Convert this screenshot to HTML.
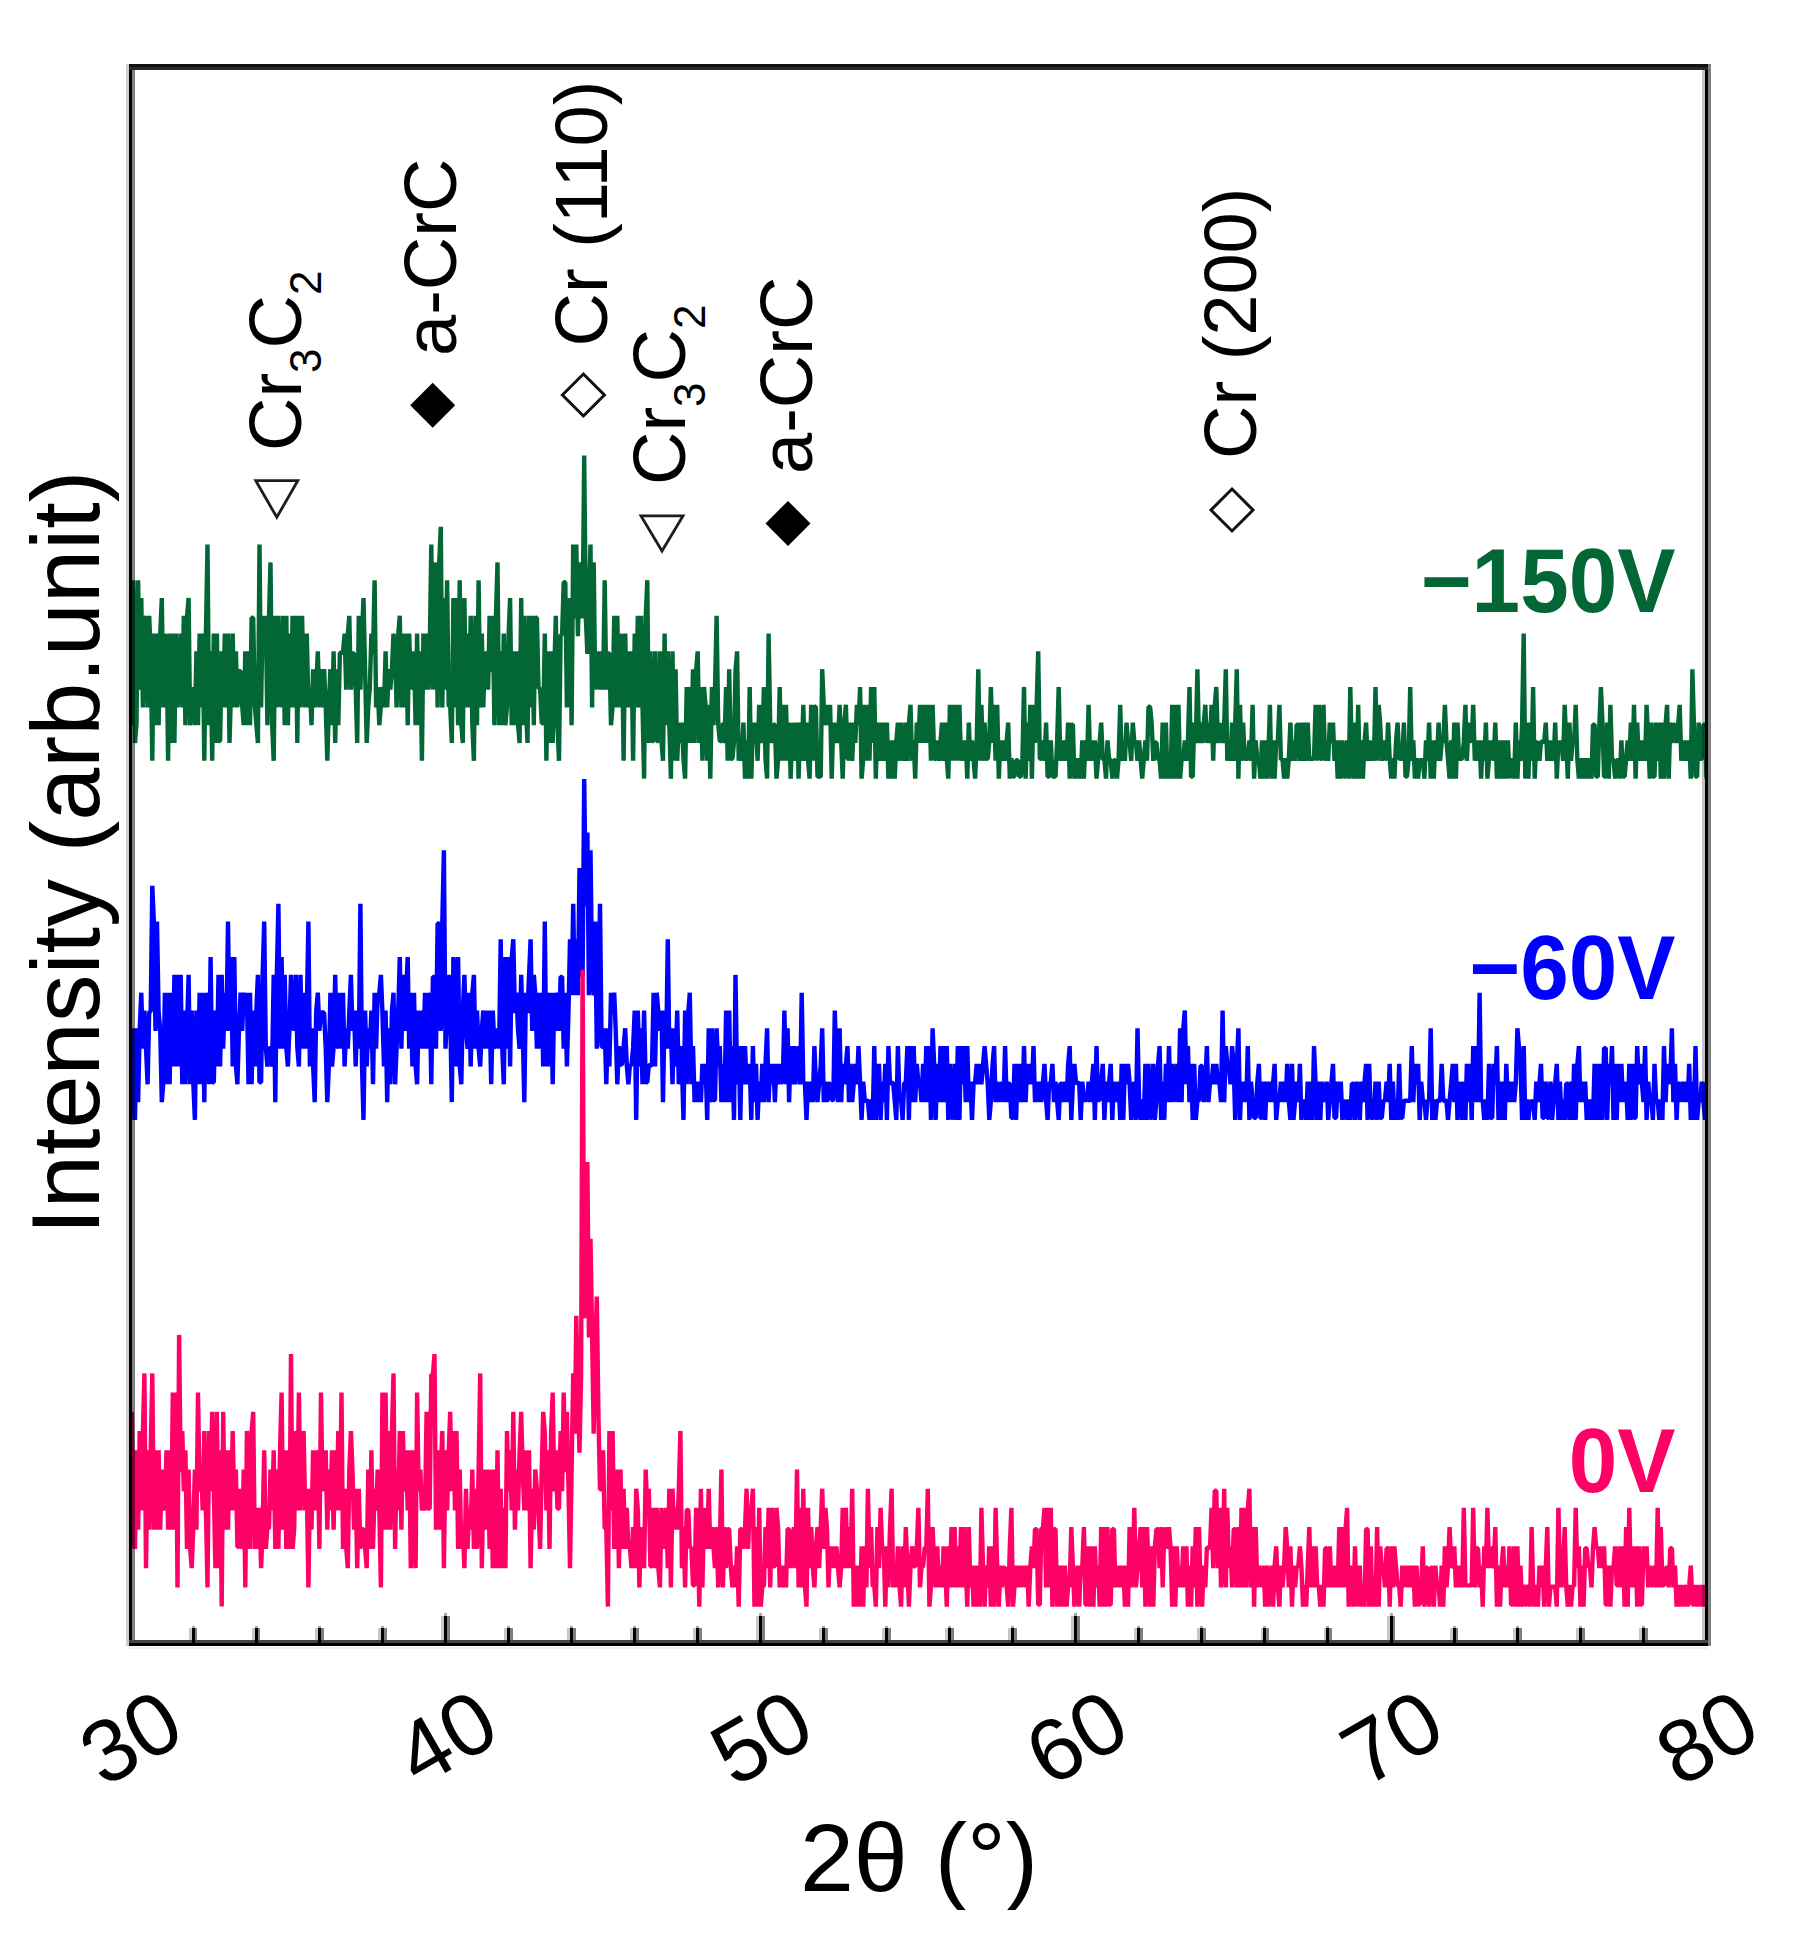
<!DOCTYPE html>
<html lang="en"><head><meta charset="utf-8"><title>XRD patterns</title>
<style>
html,body{margin:0;padding:0;background:#fff;}
body{width:1795px;height:1948px;overflow:hidden;}
svg{display:block;}
text{font-family:"Liberation Sans",Arial,sans-serif;fill:#000;}
.ann{font-size:74px;}
.tick{font-size:88px;}
.axis{font-size:97px;}
.lab{font-size:90px;font-weight:bold;}
</style></head><body>
<svg width="1795" height="1948" viewBox="0 0 1795 1948">
<rect x="0" y="0" width="1795" height="1948" fill="#ffffff"/>

<defs><clipPath id="plot"><rect x="132.0" y="67.0" width="1575.0" height="1576.0"/></clipPath></defs>
<g clip-path="url(#plot)" fill="none" stroke-linejoin="bevel" stroke-linecap="butt">
<polyline stroke="#036635" stroke-width="4.4" points="130.2,580.2 131.8,725.2 133.4,580.2 135.0,743.0 136.5,723.9 138.1,580.2 139.7,689.6 141.3,598.0 142.9,707.4 144.4,617.8 146.0,617.8 147.6,707.4 149.2,615.8 150.7,652.7 152.3,760.8 153.9,633.6 155.5,725.2 157.0,633.6 158.6,725.2 160.2,634.9 161.8,598.0 163.3,707.4 164.9,635.6 166.5,635.6 168.1,760.8 169.6,633.6 171.2,743.0 172.8,633.6 174.4,743.0 176.0,633.6 177.5,707.4 179.1,688.3 180.7,633.6 182.3,707.4 183.8,615.8 185.4,725.2 187.0,617.1 188.6,598.0 190.1,725.2 191.7,706.1 193.3,687.0 194.9,725.2 196.4,651.4 198.0,725.2 199.6,633.6 201.2,707.4 202.7,633.6 204.3,760.8 205.9,634.9 207.5,544.6 209.1,725.2 210.6,651.4 212.2,760.8 213.8,633.6 215.4,743.0 216.9,633.6 218.5,741.0 220.1,741.0 221.7,651.4 223.2,707.4 224.8,633.6 226.4,707.4 228.0,633.6 229.5,743.0 231.1,688.3 232.7,633.6 234.3,707.4 235.9,651.4 237.4,707.4 239.0,671.2 240.6,671.2 242.2,706.1 243.7,725.2 245.3,651.4 246.9,725.2 248.5,651.4 250.0,725.2 251.6,617.8 253.2,617.8 254.8,706.1 256.3,723.9 257.9,743.0 259.5,544.6 261.1,707.4 262.6,615.8 264.2,636.2 265.8,615.8 267.4,725.2 269.0,617.1 270.5,562.4 272.1,723.9 273.7,760.8 275.3,615.8 276.8,707.4 278.4,615.8 280.0,705.4 281.6,705.4 283.1,615.8 284.7,725.2 286.3,615.8 287.9,725.2 289.4,633.6 291.0,707.4 292.6,615.8 294.2,707.4 295.8,615.8 297.3,743.0 298.9,615.8 300.5,707.4 302.1,615.8 303.6,688.3 305.2,707.4 306.8,633.6 308.4,707.4 309.9,687.0 311.5,725.2 313.1,669.2 314.7,707.4 316.2,688.3 317.8,651.4 319.4,707.4 321.0,669.2 322.5,707.4 324.1,669.2 325.7,706.1 327.3,760.8 328.9,706.1 330.4,669.2 332.0,725.2 333.6,651.4 335.2,743.0 336.7,669.2 338.3,725.2 339.9,652.7 341.5,652.7 343.0,652.7 344.6,633.6 346.2,689.6 347.8,634.9 349.3,615.8 350.9,689.6 352.5,653.4 354.1,653.4 355.7,688.3 357.2,743.0 358.8,615.8 360.4,689.6 362.0,634.9 363.5,598.0 365.1,670.5 366.7,743.0 368.3,706.1 369.8,688.3 371.4,633.6 373.0,654.0 374.6,580.2 376.1,707.4 377.7,687.0 379.3,725.2 380.9,706.1 382.4,687.0 384.0,707.4 385.6,651.4 387.2,707.4 388.8,669.2 390.3,689.6 391.9,670.5 393.5,633.6 395.1,652.7 396.6,707.4 398.2,634.9 399.8,615.8 401.4,707.4 402.9,633.6 404.5,707.4 406.1,633.6 407.7,725.2 409.2,633.6 410.8,689.6 412.4,653.4 414.0,653.4 415.6,725.2 417.1,633.6 418.7,725.2 420.3,651.4 421.9,760.8 423.4,633.6 425.0,689.6 426.6,633.6 428.2,689.6 429.7,652.7 431.3,544.6 432.9,689.6 434.5,581.5 436.0,562.4 437.6,707.4 439.2,563.7 440.8,526.8 442.3,707.4 443.9,598.0 445.5,689.6 447.1,580.2 448.7,706.1 450.2,706.1 451.8,743.0 453.4,598.0 455.0,707.4 456.5,598.0 458.1,725.2 459.7,580.2 461.3,723.9 462.8,743.0 464.4,598.0 466.0,707.4 467.6,633.6 469.1,707.4 470.7,615.8 472.3,723.9 473.9,760.8 475.4,615.8 477.0,725.2 478.6,580.2 480.2,707.4 481.8,633.6 483.3,707.4 484.9,653.4 486.5,653.4 488.1,689.6 489.6,615.8 491.2,671.8 492.8,615.8 494.4,725.2 495.9,617.1 497.5,562.4 499.1,725.2 500.7,651.4 502.2,725.2 503.8,633.6 505.4,725.2 507.0,706.1 508.6,634.9 510.1,598.0 511.7,725.2 513.3,651.4 514.9,725.2 516.4,651.4 518.0,723.9 519.6,743.0 521.2,598.0 522.7,725.2 524.3,615.8 525.9,706.1 527.5,743.0 529.0,615.8 530.6,707.4 532.2,615.8 533.8,725.2 535.3,617.8 536.9,617.8 538.5,688.3 540.1,688.3 541.7,723.2 543.2,723.2 544.8,633.6 546.4,760.8 548.0,651.4 549.5,743.0 551.1,651.4 552.7,743.0 554.3,670.5 555.8,615.8 557.4,723.9 559.0,760.8 560.6,634.9 562.1,634.9 563.7,582.2 565.3,582.2 566.9,707.4 568.5,670.5 570.0,598.0 571.6,725.2 573.2,544.6 574.8,618.4 576.3,544.6 577.9,636.2 579.5,562.4 581.1,599.3 582.6,618.4 584.2,455.6 585.8,617.1 587.4,654.0 588.9,599.3 590.5,544.6 592.1,707.4 593.7,562.4 595.2,687.6 596.8,687.6 598.4,651.4 600.0,689.6 601.6,651.4 603.1,689.6 604.7,580.2 606.3,689.6 607.9,653.4 609.4,653.4 611.0,725.2 612.6,706.1 614.2,615.8 615.7,707.4 617.3,615.8 618.9,707.4 620.5,635.6 622.0,635.6 623.6,760.8 625.2,633.6 626.8,707.4 628.4,651.4 629.9,707.4 631.5,651.4 633.1,760.8 634.7,633.6 636.2,707.4 637.8,615.8 639.4,707.4 641.0,615.8 642.5,706.1 644.1,778.6 645.7,617.1 647.3,580.2 648.8,743.0 650.4,651.4 652.0,741.0 653.6,741.0 655.1,651.4 656.7,741.0 658.3,741.0 659.9,651.4 661.5,741.7 663.0,760.8 664.6,633.6 666.2,725.2 667.8,651.4 669.3,723.9 670.9,778.6 672.5,651.4 674.1,760.8 675.6,669.2 677.2,760.8 678.8,722.6 680.4,743.0 681.9,722.6 683.5,759.5 685.1,778.6 686.7,687.0 688.3,743.0 689.8,687.0 691.4,743.0 693.0,669.2 694.6,743.0 696.1,670.5 697.7,651.4 699.3,743.0 700.9,687.0 702.4,760.8 704.0,687.0 705.6,706.1 707.2,760.8 708.7,704.8 710.3,778.6 711.9,687.0 713.5,725.2 715.0,688.3 716.6,615.8 718.2,723.9 719.8,741.0 721.4,741.0 722.9,722.6 724.5,743.0 726.1,687.0 727.7,760.8 729.2,669.2 730.8,758.8 732.4,758.8 734.0,741.7 735.5,670.5 737.1,651.4 738.7,760.8 740.3,740.4 741.8,760.8 743.4,722.6 745.0,778.6 746.6,740.4 748.1,778.6 749.7,687.0 751.3,778.6 752.9,722.6 754.5,743.0 756.0,722.6 757.6,760.8 759.2,704.8 760.8,723.9 762.3,743.0 763.9,687.0 765.5,759.5 767.1,778.6 768.6,633.6 770.2,723.9 771.8,743.0 773.4,724.6 774.9,724.6 776.5,778.6 778.1,759.5 779.7,687.0 781.3,760.8 782.8,704.8 784.4,760.8 786.0,704.8 787.6,760.8 789.1,722.6 790.7,778.6 792.3,724.6 793.9,724.6 795.4,760.8 797.0,722.6 798.6,778.6 800.2,722.6 801.7,760.8 803.3,704.8 804.9,760.8 806.5,722.6 808.0,759.5 809.6,778.6 811.2,704.8 812.8,760.8 814.4,706.8 815.9,706.8 817.5,776.6 819.1,776.6 820.7,776.6 822.2,669.2 823.8,706.1 825.4,725.2 827.0,704.8 828.5,725.2 830.1,704.8 831.7,778.6 833.3,722.6 834.8,743.0 836.4,722.6 838.0,743.0 839.6,704.8 841.2,741.7 842.7,778.6 844.3,723.9 845.9,704.8 847.5,758.8 849.0,758.8 850.6,722.6 852.2,760.8 853.8,722.6 855.3,743.0 856.9,704.8 858.5,725.2 860.1,687.0 861.6,778.6 863.2,759.5 864.8,704.8 866.4,760.8 867.9,704.8 869.5,760.8 871.1,687.0 872.7,743.0 874.3,687.0 875.8,778.6 877.4,722.6 879.0,760.8 880.6,722.6 882.1,760.8 883.7,722.6 885.3,760.8 886.9,722.6 888.4,778.6 890.0,740.4 891.6,778.6 893.2,740.4 894.7,778.6 896.3,741.7 897.9,722.6 899.5,760.8 901.1,722.6 902.6,741.7 904.2,760.8 905.8,722.6 907.4,760.8 908.9,723.9 910.5,704.8 912.1,760.8 913.7,740.4 915.2,778.6 916.8,722.6 918.4,743.0 920.0,704.8 921.5,743.0 923.1,704.8 924.7,743.0 926.3,704.8 927.8,743.0 929.4,704.8 931.0,760.8 932.6,704.8 934.2,758.8 935.7,758.8 937.3,740.4 938.9,760.8 940.5,741.7 942.0,722.6 943.6,760.8 945.2,722.6 946.8,759.5 948.3,778.6 949.9,704.8 951.5,760.8 953.1,704.8 954.6,760.8 956.2,704.8 957.8,760.8 959.4,704.8 961.0,760.8 962.5,740.4 964.1,760.8 965.7,740.4 967.3,778.6 968.8,722.6 970.4,760.8 972.0,740.4 973.6,759.5 975.1,778.6 976.7,741.7 978.3,669.2 979.9,760.8 981.4,704.8 983.0,760.8 984.6,722.6 986.2,758.8 987.7,758.8 989.3,741.7 990.9,687.0 992.5,743.0 994.1,704.8 995.6,760.8 997.2,704.8 998.8,778.6 1000.4,740.4 1001.9,760.8 1003.5,740.4 1005.1,760.8 1006.7,741.7 1008.2,722.6 1009.8,778.6 1011.4,758.2 1013.0,776.6 1014.5,776.6 1016.1,760.2 1017.7,760.2 1019.3,776.6 1020.8,776.6 1022.4,759.5 1024.0,687.0 1025.6,778.6 1027.2,722.6 1028.7,760.8 1030.3,704.8 1031.9,778.6 1033.5,704.8 1035.0,743.0 1036.6,706.1 1038.2,651.4 1039.8,758.8 1041.3,758.8 1042.9,740.4 1044.5,760.8 1046.1,722.6 1047.6,776.6 1049.2,776.6 1050.8,740.4 1052.4,776.6 1054.0,776.6 1055.5,776.6 1057.1,741.7 1058.7,687.0 1060.3,760.8 1061.8,740.4 1063.4,760.8 1065.0,740.4 1066.6,760.8 1068.1,722.6 1069.7,778.6 1071.3,724.6 1072.9,724.6 1074.4,778.6 1076.0,758.2 1077.6,778.6 1079.2,758.2 1080.7,778.6 1082.3,740.4 1083.9,778.6 1085.5,740.4 1087.1,760.8 1088.6,704.8 1090.2,760.8 1091.8,740.4 1093.4,760.8 1094.9,740.4 1096.5,778.6 1098.1,759.5 1099.7,741.7 1101.2,722.6 1102.8,759.5 1104.4,759.5 1106.0,778.6 1107.5,740.4 1109.1,759.5 1110.7,759.5 1112.3,778.6 1113.9,760.2 1115.4,760.2 1117.0,778.6 1118.6,759.5 1120.2,704.8 1121.7,760.8 1123.3,740.4 1124.9,760.8 1126.5,722.6 1128.0,741.7 1129.6,741.7 1131.2,760.8 1132.8,722.6 1134.3,741.7 1135.9,741.7 1137.5,760.8 1139.1,740.4 1140.6,759.5 1142.2,778.6 1143.8,759.5 1145.4,740.4 1147.0,760.8 1148.5,706.8 1150.1,706.8 1151.7,723.9 1153.3,760.8 1154.8,742.4 1156.4,742.4 1158.0,759.5 1159.6,759.5 1161.1,778.6 1162.7,722.6 1164.3,778.6 1165.9,722.6 1167.4,778.6 1169.0,758.2 1170.6,778.6 1172.2,704.8 1173.8,778.6 1175.3,704.8 1176.9,778.6 1178.5,704.8 1180.1,778.6 1181.6,759.5 1183.2,759.5 1184.8,740.4 1186.4,760.8 1187.9,741.7 1189.5,687.0 1191.1,776.6 1192.7,776.6 1194.2,722.6 1195.8,743.0 1197.4,669.2 1199.0,743.0 1200.5,722.6 1202.1,743.0 1203.7,723.9 1205.3,704.8 1206.9,743.0 1208.4,722.6 1210.0,743.0 1211.6,704.8 1213.2,760.8 1214.7,706.1 1216.3,687.0 1217.9,743.0 1219.5,724.6 1221.0,724.6 1222.6,743.0 1224.2,723.9 1225.8,669.2 1227.3,760.8 1228.9,740.4 1230.5,760.8 1232.1,722.6 1233.7,760.8 1235.2,723.9 1236.8,669.2 1238.4,778.6 1240.0,704.8 1241.5,760.8 1243.1,722.6 1244.7,758.8 1246.3,758.8 1247.8,758.8 1249.4,740.4 1251.0,760.8 1252.6,704.8 1254.1,778.6 1255.7,740.4 1257.3,759.5 1258.9,759.5 1260.4,778.6 1262.0,740.4 1263.6,778.6 1265.2,740.4 1266.8,778.6 1268.3,759.5 1269.9,704.8 1271.5,778.6 1273.1,740.4 1274.6,778.6 1276.2,741.7 1277.8,741.7 1279.4,704.8 1280.9,759.5 1282.5,759.5 1284.1,778.6 1285.7,758.2 1287.2,778.6 1288.8,759.5 1290.4,722.6 1292.0,760.8 1293.5,740.4 1295.1,760.8 1296.7,724.6 1298.3,724.6 1299.9,760.8 1301.4,722.6 1303.0,760.8 1304.6,722.6 1306.2,760.8 1307.7,722.6 1309.3,758.8 1310.9,758.8 1312.5,758.8 1314.0,758.8 1315.6,704.8 1317.2,760.8 1318.8,704.8 1320.3,758.8 1321.9,758.8 1323.5,704.8 1325.1,760.8 1326.7,740.4 1328.2,760.8 1329.8,722.6 1331.4,743.0 1333.0,722.6 1334.5,760.8 1336.1,740.4 1337.7,778.6 1339.3,740.4 1340.8,778.6 1342.4,740.4 1344.0,776.6 1345.6,776.6 1347.1,740.4 1348.7,778.6 1350.3,687.0 1351.9,759.5 1353.4,778.6 1355.0,722.6 1356.6,778.6 1358.2,704.8 1359.8,778.6 1361.3,740.4 1362.9,778.6 1364.5,741.7 1366.1,722.6 1367.6,760.8 1369.2,740.4 1370.8,760.8 1372.4,740.4 1373.9,760.8 1375.5,687.0 1377.1,760.8 1378.7,704.8 1380.2,723.9 1381.8,760.8 1383.4,740.4 1385.0,758.8 1386.6,758.8 1388.1,722.6 1389.7,759.5 1391.3,778.6 1392.9,758.2 1394.4,778.6 1396.0,741.7 1397.6,722.6 1399.2,758.8 1400.7,758.8 1402.3,758.8 1403.9,722.6 1405.5,776.6 1407.0,776.6 1408.6,759.5 1410.2,687.0 1411.8,760.8 1413.3,740.4 1414.9,778.6 1416.5,758.2 1418.1,778.6 1419.7,760.2 1421.2,760.2 1422.8,760.2 1424.4,778.6 1426.0,740.4 1427.5,760.8 1429.1,722.6 1430.7,778.6 1432.3,740.4 1433.8,778.6 1435.4,740.4 1437.0,760.8 1438.6,722.6 1440.1,760.8 1441.7,741.7 1443.3,741.7 1444.9,704.8 1446.5,741.7 1448.0,759.5 1449.6,778.6 1451.2,740.4 1452.8,778.6 1454.3,722.6 1455.9,778.6 1457.5,722.6 1459.1,758.8 1460.6,758.8 1462.2,758.8 1463.8,741.7 1465.4,704.8 1466.9,760.8 1468.5,722.6 1470.1,741.0 1471.7,741.0 1473.2,704.8 1474.8,760.8 1476.4,740.4 1478.0,760.8 1479.6,740.4 1481.1,778.6 1482.7,740.4 1484.3,760.8 1485.9,722.6 1487.4,778.6 1489.0,759.5 1490.6,740.4 1492.2,758.8 1493.7,758.8 1495.3,722.6 1496.9,778.6 1498.5,740.4 1500.0,778.6 1501.6,740.4 1503.2,778.6 1504.8,740.4 1506.3,778.6 1507.9,740.4 1509.5,776.6 1511.1,776.6 1512.7,758.2 1514.2,778.6 1515.8,722.6 1517.4,778.6 1519.0,740.4 1520.5,760.8 1522.1,723.9 1523.7,633.6 1525.3,778.6 1526.8,722.6 1528.4,778.6 1530.0,722.6 1531.6,760.8 1533.1,687.0 1534.7,778.6 1536.3,742.4 1537.9,742.4 1539.5,760.8 1541.0,741.7 1542.6,741.7 1544.2,741.7 1545.8,722.6 1547.3,760.8 1548.9,740.4 1550.5,760.8 1552.1,740.4 1553.6,760.8 1555.2,722.6 1556.8,778.6 1558.4,742.4 1559.9,742.4 1561.5,742.4 1563.1,760.8 1564.7,704.8 1566.2,741.7 1567.8,778.6 1569.4,722.6 1571.0,760.8 1572.6,741.7 1574.1,741.7 1575.7,704.8 1577.3,759.5 1578.9,778.6 1580.4,758.2 1582.0,778.6 1583.6,758.2 1585.2,778.6 1586.7,758.2 1588.3,778.6 1589.9,758.2 1591.5,778.6 1593.0,724.6 1594.6,724.6 1596.2,776.6 1597.8,776.6 1599.4,723.9 1600.9,687.0 1602.5,723.9 1604.1,776.6 1605.7,776.6 1607.2,722.6 1608.8,778.6 1610.4,704.8 1612.0,759.5 1613.5,759.5 1615.1,778.6 1616.7,760.2 1618.3,760.2 1619.8,778.6 1621.4,740.4 1623.0,776.6 1624.6,776.6 1626.1,759.5 1627.7,740.4 1629.3,760.8 1630.9,722.6 1632.5,760.8 1634.0,704.8 1635.6,778.6 1637.2,722.6 1638.8,760.8 1640.3,740.4 1641.9,760.8 1643.5,740.4 1645.1,760.8 1646.6,704.8 1648.2,741.7 1649.8,778.6 1651.4,722.6 1652.9,776.6 1654.5,776.6 1656.1,722.6 1657.7,760.8 1659.3,722.6 1660.8,778.6 1662.4,722.6 1664.0,778.6 1665.6,723.9 1667.1,704.8 1668.7,778.6 1670.3,722.6 1671.9,743.0 1673.4,724.6 1675.0,724.6 1676.6,743.0 1678.2,723.9 1679.7,704.8 1681.3,760.8 1682.9,740.4 1684.5,760.8 1686.0,740.4 1687.6,760.8 1689.2,740.4 1690.8,778.6 1692.4,669.2 1693.9,723.9 1695.5,776.6 1697.1,776.6 1698.7,722.6 1700.2,758.8 1701.8,758.8 1703.4,724.6 1705.0,724.6 1706.5,778.6"/>
<polyline stroke="#0000ff" stroke-width="4.4" points="130.2,1119.9 131.8,1100.8 133.4,1028.3 135.0,1119.9 136.5,1028.3 138.1,1102.1 139.7,1029.6 141.3,992.7 142.9,1048.7 144.4,1010.5 146.0,1047.4 147.6,1084.3 149.2,1011.8 150.7,1011.8 152.3,885.9 153.9,922.8 155.5,1030.9 157.0,921.5 158.6,1011.8 160.2,1029.6 161.8,1102.1 163.3,1083.0 164.9,992.7 166.5,1084.3 168.1,992.7 169.6,1084.3 171.2,992.7 172.8,1066.5 174.4,974.9 176.0,1066.5 177.5,974.9 179.1,1066.5 180.7,974.9 182.3,1084.3 183.8,1010.5 185.4,1084.3 187.0,1029.6 188.6,974.9 190.1,1084.3 191.7,1010.5 193.3,1083.0 194.9,1119.9 196.4,1010.5 198.0,1084.3 199.6,992.7 201.2,1084.3 202.7,992.7 204.3,1102.1 205.9,994.7 207.5,994.7 209.1,1084.3 210.6,957.1 212.2,1082.3 213.8,1082.3 215.4,1010.5 216.9,1066.5 218.5,974.9 220.1,1066.5 221.7,974.9 223.2,1048.7 224.8,992.7 226.4,1030.9 228.0,921.5 229.5,1030.9 231.1,957.1 232.7,1066.5 234.3,957.1 235.9,1065.2 237.4,1084.3 239.0,1029.6 240.6,992.7 242.2,1030.9 243.7,992.7 245.3,1013.1 246.9,992.7 248.5,1084.3 250.0,992.7 251.6,1084.3 253.2,1010.5 254.8,1066.5 256.3,1011.8 257.9,974.9 259.5,1082.3 261.1,1082.3 262.6,976.2 264.2,921.5 265.8,1047.4 267.4,1066.5 269.0,1048.1 270.5,1048.1 272.1,1066.5 273.7,974.9 275.3,1102.1 276.8,976.2 278.4,903.7 280.0,1048.7 281.6,957.1 283.1,1048.7 284.7,974.9 286.3,1047.4 287.9,1066.5 289.4,1029.6 291.0,974.9 292.6,1028.9 294.2,1028.9 295.8,974.9 297.3,1047.4 298.9,1066.5 300.5,974.9 302.1,1048.7 303.6,992.7 305.2,1048.7 306.8,1011.8 308.4,921.5 309.9,1066.5 311.5,1028.3 313.1,1065.2 314.7,1102.1 316.2,1011.8 317.8,992.7 319.4,1030.9 321.0,1012.5 322.5,1012.5 324.1,1012.5 325.7,1047.4 327.3,1102.1 328.9,1065.2 330.4,992.7 332.0,1066.5 333.6,1047.4 335.2,974.9 336.7,1046.7 338.3,1046.7 339.9,992.7 341.5,1048.7 343.0,992.7 344.6,1066.5 346.2,1028.3 347.8,1048.7 349.3,1011.8 350.9,974.9 352.5,1030.9 354.1,1010.5 355.7,1066.5 357.2,1010.5 358.8,1048.7 360.4,903.7 362.0,1065.2 363.5,1119.9 365.1,1010.5 366.7,1066.5 368.3,1028.3 369.8,1048.7 371.4,1010.5 373.0,1084.3 374.6,992.7 376.1,1048.7 377.7,994.0 379.3,994.0 380.9,974.9 382.4,1011.8 384.0,1066.5 385.6,1010.5 387.2,1102.1 388.8,1028.3 390.3,1084.3 391.9,1011.8 393.5,992.7 395.1,1084.3 396.6,1047.4 398.2,1011.8 399.8,957.1 401.4,1048.7 402.9,974.9 404.5,1030.9 406.1,994.0 407.7,957.1 409.2,1048.7 410.8,992.7 412.4,1066.5 414.0,992.7 415.6,1065.2 417.1,1084.3 418.7,1010.5 420.3,1048.7 421.9,1010.5 423.4,1048.7 425.0,992.7 426.6,1048.7 428.2,994.7 429.7,994.7 431.3,1084.3 432.9,976.9 434.5,976.9 436.0,1048.7 437.6,923.5 439.2,923.5 440.8,1030.9 442.3,922.8 443.9,850.3 445.5,1048.7 447.1,1011.8 448.7,974.9 450.2,1011.8 451.8,1102.1 453.4,957.1 455.0,976.2 456.5,1066.5 458.1,957.1 459.7,1065.2 461.3,1084.3 462.8,1011.8 464.4,974.9 466.0,1029.6 467.6,1048.7 469.1,992.7 470.7,1066.5 472.3,994.0 473.9,974.9 475.4,1048.7 477.0,1010.5 478.6,1047.4 480.2,1066.5 481.8,1029.6 483.3,1010.5 484.9,1048.7 486.5,1010.5 488.1,1048.7 489.6,1010.5 491.2,1084.3 492.8,1010.5 494.4,1046.7 495.9,1046.7 497.5,1028.3 499.1,1048.7 500.7,939.3 502.2,1047.4 503.8,1084.3 505.4,957.1 507.0,1048.7 508.6,957.1 510.1,1066.5 511.7,958.4 513.3,939.3 514.9,1013.1 516.4,992.7 518.0,1029.6 519.6,1048.7 521.2,974.9 522.7,1029.6 524.3,1102.1 525.9,992.7 527.5,1013.1 529.0,976.2 530.6,939.3 532.2,1030.9 533.8,974.9 535.3,994.0 536.9,1048.7 538.5,992.7 540.1,1048.7 541.7,992.7 543.2,1066.5 544.8,921.5 546.4,1066.5 548.0,992.7 549.5,1066.5 551.1,992.7 552.7,1084.3 554.3,992.7 555.8,1030.9 557.4,992.7 559.0,1030.9 560.6,976.9 562.1,976.9 563.7,1048.7 565.3,992.7 566.9,1066.5 568.5,1011.8 570.0,939.3 571.6,995.3 573.2,903.7 574.8,995.3 576.3,939.3 577.9,995.3 579.5,868.1 581.1,975.5 582.6,975.5 584.2,779.1 585.8,906.3 587.4,832.5 588.9,995.3 590.5,850.3 592.1,976.2 593.7,995.3 595.2,921.5 596.8,1048.7 598.4,1011.8 600.0,903.7 601.6,1046.7 603.1,1046.7 604.7,1028.3 606.3,1084.3 607.9,1028.3 609.4,1066.5 611.0,992.7 612.6,1013.1 614.2,992.7 615.7,1029.6 617.3,1084.3 618.9,1046.1 620.5,1064.5 622.0,1064.5 623.6,1047.4 625.2,1028.3 626.8,1065.2 628.4,1084.3 629.9,1065.2 631.5,1065.2 633.1,1047.4 634.7,1010.5 636.2,1119.9 637.8,1010.5 639.4,1066.5 641.0,1028.3 642.5,1084.3 644.1,1010.5 645.7,1082.3 647.3,1082.3 648.8,1065.2 650.4,1065.2 652.0,1065.2 653.6,992.7 655.1,1066.5 656.7,992.7 658.3,1011.8 659.9,1030.9 661.5,1010.5 663.0,1102.1 664.6,1010.5 666.2,1048.7 667.8,939.3 669.3,1048.7 670.9,1028.3 672.5,1084.3 674.1,1028.3 675.6,1066.5 677.2,1010.5 678.8,1084.3 680.4,1046.1 681.9,1065.2 683.5,1119.9 685.1,1010.5 686.7,1084.3 688.3,1011.8 689.8,992.7 691.4,1084.3 693.0,1046.1 694.6,1102.1 696.1,1081.7 697.7,1102.1 699.3,1081.7 700.9,1102.1 702.4,1063.9 704.0,1084.3 705.6,1063.9 707.2,1119.9 708.7,1028.3 710.3,1102.1 711.9,1028.3 713.5,1100.1 715.0,1100.1 716.6,1028.3 718.2,1066.5 719.8,1046.1 721.4,1102.1 722.9,1063.9 724.5,1102.1 726.1,1010.5 727.7,1102.1 729.2,1010.5 730.8,1102.1 732.4,1046.1 734.0,1119.9 735.5,974.9 737.1,1084.3 738.7,1046.1 740.3,1119.9 741.8,1046.1 743.4,1084.3 745.0,1046.1 746.6,1084.3 748.1,1065.9 749.7,1065.9 751.3,1119.9 752.9,1046.1 754.5,1102.1 756.0,1063.9 757.6,1119.9 759.2,1081.7 760.8,1102.1 762.3,1063.9 763.9,1102.1 765.5,1065.2 767.1,1028.3 768.6,1102.1 770.2,1063.9 771.8,1084.3 773.4,1063.9 774.9,1102.1 776.5,1063.9 778.1,1084.3 779.7,1063.9 781.3,1082.3 782.8,1082.3 784.4,1010.5 786.0,1084.3 787.6,1028.3 789.1,1102.1 790.7,1046.1 792.3,1084.3 793.9,1046.1 795.4,1084.3 797.0,1048.1 798.6,1048.1 800.2,1084.3 801.7,992.7 803.3,1083.0 804.9,1083.0 806.5,1119.9 808.0,1081.7 809.6,1102.1 811.2,1081.7 812.8,1102.1 814.4,1046.1 815.9,1083.0 817.5,1102.1 819.1,1083.0 820.7,1065.2 822.2,1028.3 823.8,1102.1 825.4,1081.7 827.0,1102.1 828.5,1083.7 830.1,1083.7 831.7,1100.1 833.3,1100.1 834.8,1010.5 836.4,1065.2 838.0,1102.1 839.6,1028.3 841.2,1102.1 842.7,1063.9 844.3,1084.3 845.9,1065.2 847.5,1046.1 849.0,1102.1 850.6,1063.9 852.2,1102.1 853.8,1083.0 855.3,1063.9 856.9,1084.3 858.5,1046.1 860.1,1083.0 861.6,1119.9 863.2,1081.7 864.8,1100.8 866.4,1100.8 867.9,1100.8 869.5,1119.9 871.1,1099.5 872.7,1119.9 874.3,1046.1 875.8,1119.9 877.4,1083.0 879.0,1063.9 880.6,1119.9 882.1,1081.7 883.7,1102.1 885.3,1063.9 886.9,1119.9 888.4,1046.1 890.0,1083.0 891.6,1083.0 893.2,1083.0 894.7,1100.8 896.3,1119.9 897.9,1046.1 899.5,1100.8 901.1,1100.8 902.6,1119.9 904.2,1083.0 905.8,1083.0 907.4,1046.1 908.9,1119.9 910.5,1046.1 912.1,1102.1 913.7,1046.1 915.2,1102.1 916.8,1063.9 918.4,1083.0 920.0,1083.0 921.5,1102.1 923.1,1063.9 924.7,1102.1 926.3,1046.1 927.8,1102.1 929.4,1046.1 931.0,1119.9 932.6,1028.3 934.2,1065.2 935.7,1119.9 937.3,1063.9 938.9,1102.1 940.5,1046.1 942.0,1102.1 943.6,1046.1 945.2,1102.1 946.8,1046.1 948.3,1119.9 949.9,1063.9 951.5,1117.9 953.1,1117.9 954.6,1063.9 956.2,1119.9 957.8,1046.1 959.4,1119.9 961.0,1046.1 962.5,1084.3 964.1,1046.1 965.7,1102.1 967.3,1046.1 968.8,1102.1 970.4,1081.7 972.0,1119.9 973.6,1083.0 975.1,1083.0 976.7,1063.9 978.3,1084.3 979.9,1063.9 981.4,1084.3 983.0,1065.2 984.6,1046.1 986.2,1065.2 987.7,1083.0 989.3,1119.9 990.9,1100.8 992.5,1065.2 994.1,1046.1 995.6,1102.1 997.2,1081.7 998.8,1102.1 1000.4,1083.7 1001.9,1083.7 1003.5,1102.1 1005.1,1046.1 1006.7,1102.1 1008.2,1083.7 1009.8,1083.7 1011.4,1117.9 1013.0,1117.9 1014.5,1063.9 1016.1,1119.9 1017.7,1063.9 1019.3,1102.1 1020.8,1063.9 1022.4,1102.1 1024.0,1046.1 1025.6,1102.1 1027.2,1063.9 1028.7,1084.3 1030.3,1063.9 1031.9,1084.3 1033.5,1046.1 1035.0,1102.1 1036.6,1081.7 1038.2,1102.1 1039.8,1081.7 1041.3,1102.1 1042.9,1083.0 1044.5,1063.9 1046.1,1100.8 1047.6,1119.9 1049.2,1083.0 1050.8,1083.0 1052.4,1063.9 1054.0,1102.1 1055.5,1081.7 1057.1,1100.8 1058.7,1119.9 1060.3,1083.7 1061.8,1083.7 1063.4,1102.1 1065.0,1081.7 1066.6,1102.1 1068.1,1065.2 1069.7,1046.1 1071.3,1119.9 1072.9,1083.0 1074.4,1063.9 1076.0,1083.0 1077.6,1083.0 1079.2,1083.0 1080.7,1119.9 1082.3,1081.7 1083.9,1100.1 1085.5,1100.1 1087.1,1100.1 1088.6,1081.7 1090.2,1102.1 1091.8,1083.0 1093.4,1063.9 1094.9,1119.9 1096.5,1046.1 1098.1,1100.1 1099.7,1100.1 1101.2,1083.0 1102.8,1063.9 1104.4,1119.9 1106.0,1081.7 1107.5,1102.1 1109.1,1083.0 1110.7,1063.9 1112.3,1119.9 1113.9,1081.7 1115.4,1100.1 1117.0,1100.1 1118.6,1081.7 1120.2,1119.9 1121.7,1063.9 1123.3,1119.9 1124.9,1063.9 1126.5,1084.3 1128.0,1063.9 1129.6,1083.0 1131.2,1119.9 1132.8,1083.7 1134.3,1083.7 1135.9,1119.9 1137.5,1028.3 1139.1,1100.8 1140.6,1119.9 1142.2,1099.5 1143.8,1119.9 1145.4,1063.9 1147.0,1119.9 1148.5,1063.9 1150.1,1117.9 1151.7,1117.9 1153.3,1063.9 1154.8,1119.9 1156.4,1100.8 1158.0,1065.2 1159.6,1046.1 1161.1,1119.9 1162.7,1081.7 1164.3,1119.9 1165.9,1063.9 1167.4,1102.1 1169.0,1046.1 1170.6,1102.1 1172.2,1063.9 1173.8,1100.1 1175.3,1100.1 1176.9,1063.9 1178.5,1102.1 1180.1,1028.3 1181.6,1102.1 1183.2,1029.6 1184.8,1010.5 1186.4,1084.3 1187.9,1046.1 1189.5,1102.1 1191.1,1063.9 1192.7,1119.9 1194.2,1063.9 1195.8,1119.9 1197.4,1100.8 1199.0,1100.8 1200.5,1065.9 1202.1,1065.9 1203.7,1102.1 1205.3,1083.0 1206.9,1046.1 1208.4,1102.1 1210.0,1083.0 1211.6,1083.0 1213.2,1063.9 1214.7,1084.3 1216.3,1063.9 1217.9,1083.0 1219.5,1083.0 1221.0,1102.1 1222.6,1010.5 1224.2,1102.1 1225.8,1046.1 1227.3,1065.2 1228.9,1065.2 1230.5,1084.3 1232.1,1046.1 1233.7,1065.2 1235.2,1119.9 1236.8,1065.2 1238.4,1028.3 1240.0,1119.9 1241.5,1081.7 1243.1,1102.1 1244.7,1081.7 1246.3,1102.1 1247.8,1046.1 1249.4,1119.9 1251.0,1081.7 1252.6,1100.8 1254.1,1117.9 1255.7,1117.9 1257.3,1083.0 1258.9,1063.9 1260.4,1117.9 1262.0,1117.9 1263.6,1081.7 1265.2,1119.9 1266.8,1081.7 1268.3,1102.1 1269.9,1081.7 1271.5,1102.1 1273.1,1083.0 1274.6,1063.9 1276.2,1119.9 1277.8,1100.8 1279.4,1100.8 1280.9,1081.7 1282.5,1102.1 1284.1,1081.7 1285.7,1102.1 1287.2,1063.9 1288.8,1100.8 1290.4,1119.9 1292.0,1063.9 1293.5,1119.9 1295.1,1100.8 1296.7,1081.7 1298.3,1102.1 1299.9,1063.9 1301.4,1119.9 1303.0,1101.5 1304.6,1101.5 1306.2,1119.9 1307.7,1081.7 1309.3,1119.9 1310.9,1081.7 1312.5,1119.9 1314.0,1046.1 1315.6,1083.0 1317.2,1119.9 1318.8,1081.7 1320.3,1119.9 1321.9,1081.7 1323.5,1100.1 1325.1,1100.1 1326.7,1081.7 1328.2,1119.9 1329.8,1100.8 1331.4,1083.0 1333.0,1063.9 1334.5,1117.9 1336.1,1117.9 1337.7,1081.7 1339.3,1102.1 1340.8,1081.7 1342.4,1119.9 1344.0,1101.5 1345.6,1101.5 1347.1,1119.9 1348.7,1099.5 1350.3,1119.9 1351.9,1083.7 1353.4,1083.7 1355.0,1119.9 1356.6,1081.7 1358.2,1100.8 1359.8,1119.9 1361.3,1081.7 1362.9,1102.1 1364.5,1083.0 1366.1,1063.9 1367.6,1119.9 1369.2,1063.9 1370.8,1117.9 1372.4,1117.9 1373.9,1117.9 1375.5,1081.7 1377.1,1119.9 1378.7,1081.7 1380.2,1117.9 1381.8,1117.9 1383.4,1100.8 1385.0,1100.8 1386.6,1081.7 1388.1,1102.1 1389.7,1063.9 1391.3,1119.9 1392.9,1081.7 1394.4,1119.9 1396.0,1099.5 1397.6,1119.9 1399.2,1063.9 1400.7,1117.9 1402.3,1117.9 1403.9,1100.8 1405.5,1100.8 1407.0,1100.8 1408.6,1100.8 1410.2,1100.8 1411.8,1046.1 1413.3,1102.1 1414.9,1063.9 1416.5,1084.3 1418.1,1063.9 1419.7,1119.9 1421.2,1081.7 1422.8,1100.8 1424.4,1100.8 1426.0,1119.9 1427.5,1100.8 1429.1,1100.8 1430.7,1028.3 1432.3,1119.9 1433.8,1099.5 1435.4,1119.9 1437.0,1100.8 1438.6,1100.8 1440.1,1100.8 1441.7,1063.9 1443.3,1100.8 1444.9,1100.8 1446.5,1100.8 1448.0,1119.9 1449.6,1100.8 1451.2,1083.0 1452.8,1063.9 1454.3,1102.1 1455.9,1063.9 1457.5,1119.9 1459.1,1083.7 1460.6,1083.7 1462.2,1119.9 1463.8,1081.7 1465.4,1119.9 1466.9,1063.9 1468.5,1102.1 1470.1,1063.9 1471.7,1119.9 1473.2,1046.1 1474.8,1102.1 1476.4,1046.1 1478.0,1102.1 1479.6,992.7 1481.1,1100.8 1482.7,1100.8 1484.3,1119.9 1485.9,1099.5 1487.4,1119.9 1489.0,1063.9 1490.6,1117.9 1492.2,1117.9 1493.7,1063.9 1495.3,1084.3 1496.9,1046.1 1498.5,1119.9 1500.0,1081.7 1501.6,1119.9 1503.2,1081.7 1504.8,1119.9 1506.3,1063.9 1507.9,1102.1 1509.5,1081.7 1511.1,1102.1 1512.7,1081.7 1514.2,1102.1 1515.8,1083.0 1517.4,1028.3 1519.0,1047.4 1520.5,1065.2 1522.1,1119.9 1523.7,1046.1 1525.3,1119.9 1526.8,1099.5 1528.4,1119.9 1530.0,1101.5 1531.6,1101.5 1533.1,1101.5 1534.7,1119.9 1536.3,1081.7 1537.9,1102.1 1539.5,1083.0 1541.0,1063.9 1542.6,1117.9 1544.2,1117.9 1545.8,1081.7 1547.3,1117.9 1548.9,1117.9 1550.5,1081.7 1552.1,1119.9 1553.6,1100.8 1555.2,1083.0 1556.8,1063.9 1558.4,1119.9 1559.9,1081.7 1561.5,1119.9 1563.1,1099.5 1564.7,1119.9 1566.2,1083.7 1567.8,1083.7 1569.4,1119.9 1571.0,1081.7 1572.6,1119.9 1574.1,1063.9 1575.7,1119.9 1577.3,1065.2 1578.9,1046.1 1580.4,1102.1 1582.0,1081.7 1583.6,1102.1 1585.2,1081.7 1586.7,1119.9 1588.3,1099.5 1589.9,1119.9 1591.5,1099.5 1593.0,1119.9 1594.6,1063.9 1596.2,1119.9 1597.8,1063.9 1599.4,1119.9 1600.9,1063.9 1602.5,1119.9 1604.1,1048.1 1605.7,1048.1 1607.2,1119.9 1608.8,1063.9 1610.4,1084.3 1612.0,1046.1 1613.5,1119.9 1615.1,1063.9 1616.7,1119.9 1618.3,1063.9 1619.8,1102.1 1621.4,1063.9 1623.0,1102.1 1624.6,1083.7 1626.1,1083.7 1627.7,1119.9 1629.3,1063.9 1630.9,1119.9 1632.5,1063.9 1634.0,1117.9 1635.6,1117.9 1637.2,1046.1 1638.8,1084.3 1640.3,1063.9 1641.9,1083.0 1643.5,1102.1 1645.1,1046.1 1646.6,1119.9 1648.2,1081.7 1649.8,1100.8 1651.4,1100.8 1652.9,1119.9 1654.5,1063.9 1656.1,1100.8 1657.7,1100.8 1659.3,1119.9 1660.8,1099.5 1662.4,1119.9 1664.0,1046.1 1665.6,1102.1 1667.1,1063.9 1668.7,1082.3 1670.3,1082.3 1671.9,1028.3 1673.4,1102.1 1675.0,1063.9 1676.6,1119.9 1678.2,1081.7 1679.7,1100.1 1681.3,1100.1 1682.9,1081.7 1684.5,1102.1 1686.0,1081.7 1687.6,1102.1 1689.2,1063.9 1690.8,1119.9 1692.4,1081.7 1693.9,1119.9 1695.5,1046.1 1697.1,1119.9 1698.7,1100.8 1700.2,1100.8 1701.8,1081.7 1703.4,1100.8 1705.0,1119.9 1706.5,1081.7"/>
<polyline stroke="#ff0066" stroke-width="4.4" points="130.2,1548.9 131.8,1411.8 133.4,1528.4 135.0,1548.9 136.5,1450.2 138.1,1529.7 139.7,1431.0 141.3,1510.5 142.9,1432.3 144.4,1373.4 146.0,1568.2 147.6,1450.2 149.2,1529.7 150.7,1451.5 152.3,1373.4 153.9,1529.7 155.5,1450.2 157.0,1529.7 158.6,1450.2 160.2,1529.7 161.8,1469.5 163.3,1508.5 164.9,1508.5 166.5,1450.2 168.1,1529.7 169.6,1450.2 171.2,1529.7 172.8,1392.6 174.4,1529.7 176.0,1392.6 177.5,1587.4 179.1,1334.9 180.7,1472.1 182.3,1431.0 183.8,1491.3 185.4,1450.2 187.0,1548.9 188.6,1469.5 190.1,1547.6 191.7,1568.2 193.3,1528.4 194.9,1469.5 196.4,1529.7 198.0,1392.6 199.6,1491.3 201.2,1469.5 202.7,1510.5 204.3,1431.0 205.9,1509.2 207.5,1587.4 209.1,1431.0 210.6,1491.3 212.2,1411.8 213.8,1490.0 215.4,1568.2 216.9,1411.8 218.5,1568.2 220.1,1450.2 221.7,1606.6 223.2,1411.8 224.8,1529.7 226.4,1450.2 228.0,1529.7 229.5,1450.2 231.1,1510.5 232.7,1431.0 234.3,1510.5 235.9,1469.5 237.4,1546.9 239.0,1546.9 240.6,1488.7 242.2,1548.9 243.7,1469.5 245.3,1587.4 246.9,1431.0 248.5,1451.5 250.0,1548.9 251.6,1432.3 253.2,1411.8 254.8,1548.9 256.3,1507.9 257.9,1548.9 259.5,1507.9 261.1,1568.2 262.6,1528.4 264.2,1450.2 265.8,1548.9 267.4,1528.4 269.0,1528.4 270.5,1469.5 272.1,1510.5 273.7,1450.2 275.3,1548.9 276.8,1469.5 278.4,1548.9 280.0,1451.5 281.6,1392.6 283.1,1529.7 284.7,1450.2 286.3,1548.9 287.9,1450.2 289.4,1548.9 291.0,1354.1 292.6,1548.9 294.2,1528.4 295.8,1431.0 297.3,1510.5 298.9,1392.6 300.5,1510.5 302.1,1451.5 303.6,1431.0 305.2,1510.5 306.8,1488.7 308.4,1587.4 309.9,1488.7 311.5,1529.7 313.1,1450.2 314.7,1510.5 316.2,1470.8 317.8,1450.2 319.4,1548.9 321.0,1392.6 322.5,1489.3 324.1,1489.3 325.7,1450.2 327.3,1529.7 328.9,1469.5 330.4,1510.5 332.0,1450.2 333.6,1529.7 335.2,1450.2 336.7,1510.5 338.3,1431.0 339.9,1510.5 341.5,1392.6 343.0,1548.9 344.6,1488.7 346.2,1547.6 347.8,1568.2 349.3,1470.8 350.9,1431.0 352.5,1470.8 354.1,1529.7 355.7,1488.7 357.2,1568.2 358.8,1488.7 360.4,1548.9 362.0,1529.1 363.5,1529.1 365.1,1547.6 366.7,1568.2 368.3,1469.5 369.8,1548.9 371.4,1450.2 373.0,1548.9 374.6,1488.7 376.1,1510.5 377.7,1469.5 379.3,1509.2 380.9,1587.4 382.4,1392.6 384.0,1529.7 385.6,1392.6 387.2,1529.7 388.8,1431.0 390.3,1529.7 391.9,1432.3 393.5,1373.4 395.1,1548.9 396.6,1469.5 398.2,1510.5 399.8,1431.0 401.4,1529.7 402.9,1431.0 404.5,1491.3 406.1,1450.2 407.7,1510.5 409.2,1450.2 410.8,1568.2 412.4,1450.2 414.0,1547.6 415.6,1568.2 417.1,1392.6 418.7,1491.3 420.3,1469.5 421.9,1510.5 423.4,1488.7 425.0,1510.5 426.6,1411.8 428.2,1508.5 429.7,1508.5 431.3,1374.7 432.9,1374.7 434.5,1354.1 436.0,1529.7 437.6,1450.2 439.2,1529.7 440.8,1470.8 442.3,1431.0 443.9,1568.2 445.5,1450.2 447.1,1510.5 448.7,1451.5 450.2,1411.8 451.8,1491.3 453.4,1431.0 455.0,1510.5 456.5,1431.0 458.1,1548.9 459.7,1469.5 461.3,1548.9 462.8,1527.1 464.4,1568.2 466.0,1488.7 467.6,1548.9 469.1,1507.9 470.7,1529.7 472.3,1469.5 473.9,1548.9 475.4,1488.7 477.0,1548.9 478.6,1470.8 480.2,1373.4 481.8,1568.2 483.3,1490.0 484.9,1469.5 486.5,1529.7 488.1,1469.5 489.6,1548.9 491.2,1469.5 492.8,1568.2 494.4,1469.5 495.9,1568.2 497.5,1450.2 499.1,1568.2 500.7,1488.7 502.2,1568.2 503.8,1507.9 505.4,1568.2 507.0,1431.0 508.6,1491.3 510.1,1450.2 511.7,1510.5 513.3,1411.8 514.9,1529.7 516.4,1469.5 518.0,1510.5 519.6,1451.5 521.2,1411.8 522.7,1470.8 524.3,1510.5 525.9,1450.2 527.5,1510.5 529.0,1450.2 530.6,1568.2 532.2,1488.7 533.8,1529.7 535.3,1469.5 536.9,1490.0 538.5,1509.2 540.1,1548.9 541.7,1470.8 543.2,1411.8 544.8,1432.3 546.4,1510.5 548.0,1450.2 549.5,1548.9 551.1,1432.3 552.7,1392.6 554.3,1491.3 555.8,1450.2 557.4,1508.5 559.0,1508.5 560.6,1431.0 562.1,1491.3 563.7,1392.6 565.3,1472.1 566.9,1411.8 568.5,1490.0 570.0,1568.2 571.6,1470.8 573.2,1373.4 574.8,1433.6 576.3,1315.7 577.9,1393.9 579.5,1452.8 581.1,1374.7 582.6,969.7 584.2,1318.3 585.8,1240.1 587.4,1161.9 588.9,1337.5 590.5,1238.8 592.1,1336.2 593.7,1433.6 595.2,1355.4 596.8,1296.5 598.4,1413.1 600.0,1489.3 601.6,1489.3 603.1,1450.2 604.7,1528.4 606.3,1528.4 607.9,1606.6 609.4,1431.0 611.0,1510.5 612.6,1431.0 614.2,1548.9 615.7,1509.2 617.3,1469.5 618.9,1568.2 620.5,1469.5 622.0,1548.9 623.6,1488.7 625.2,1548.9 626.8,1507.9 628.4,1547.6 629.9,1547.6 631.5,1568.2 633.1,1527.1 634.7,1568.2 636.2,1488.7 637.8,1509.2 639.4,1587.4 641.0,1527.1 642.5,1547.6 644.1,1568.2 645.7,1469.5 647.3,1510.5 648.8,1488.7 650.4,1566.2 652.0,1566.2 653.6,1507.9 655.1,1568.2 656.7,1507.9 658.3,1566.9 659.9,1587.4 661.5,1507.9 663.0,1546.9 664.6,1546.9 666.2,1507.9 667.8,1568.2 669.3,1488.7 670.9,1587.4 672.5,1488.7 674.1,1529.7 675.6,1507.9 677.2,1529.7 678.8,1490.0 680.4,1431.0 681.9,1568.2 683.5,1527.1 685.1,1587.4 686.7,1509.9 688.3,1509.9 689.8,1547.6 691.4,1547.6 693.0,1585.4 694.6,1585.4 696.1,1507.9 697.7,1528.4 699.3,1606.6 700.9,1488.7 702.4,1587.4 704.0,1509.9 705.6,1509.9 707.2,1548.9 708.7,1488.7 710.3,1548.9 711.9,1527.1 713.5,1547.6 715.0,1568.2 716.6,1527.1 718.2,1587.4 719.8,1547.6 721.4,1469.5 722.9,1587.4 724.5,1527.1 726.1,1568.2 727.7,1529.1 729.2,1529.1 730.8,1566.9 732.4,1587.4 734.0,1565.6 735.5,1587.4 737.1,1546.3 738.7,1606.6 740.3,1529.1 741.8,1529.1 743.4,1548.9 745.0,1528.4 746.6,1488.7 748.1,1548.9 749.7,1509.2 751.3,1509.2 752.9,1488.7 754.5,1606.6 756.0,1527.1 757.6,1606.6 759.2,1507.9 760.8,1606.6 762.3,1586.1 763.9,1586.1 765.5,1527.1 767.1,1568.2 768.6,1507.9 770.2,1587.4 771.8,1507.9 773.4,1566.2 774.9,1566.2 776.5,1507.9 778.1,1528.4 779.7,1587.4 781.3,1565.6 782.8,1587.4 784.4,1565.6 786.0,1587.4 787.6,1529.1 789.1,1529.1 790.7,1568.2 792.3,1547.6 793.9,1527.1 795.4,1568.2 797.0,1469.5 798.6,1587.4 800.2,1507.9 801.7,1587.4 803.3,1488.7 804.9,1586.1 806.5,1606.6 808.0,1507.9 809.6,1568.2 811.2,1527.1 812.8,1566.9 814.4,1587.4 815.9,1547.6 817.5,1527.1 819.1,1568.2 820.7,1528.4 822.2,1488.7 823.8,1548.9 825.4,1507.9 827.0,1528.4 828.5,1587.4 830.1,1546.3 831.7,1568.2 833.3,1546.3 834.8,1568.2 836.4,1546.3 838.0,1566.9 839.6,1587.4 841.2,1566.9 842.7,1507.9 844.3,1568.2 845.9,1507.9 847.5,1568.2 849.0,1527.1 850.6,1568.2 852.2,1488.7 853.8,1606.6 855.3,1565.6 856.9,1606.6 858.5,1565.6 860.1,1606.6 861.6,1546.3 863.2,1606.6 864.8,1546.3 866.4,1587.4 867.9,1488.7 869.5,1568.2 871.1,1527.1 872.7,1586.1 874.3,1586.1 875.8,1606.6 877.4,1527.1 879.0,1568.2 880.6,1507.9 882.1,1547.6 883.7,1547.6 885.3,1606.6 886.9,1546.3 888.4,1587.4 890.0,1528.4 891.6,1488.7 893.2,1587.4 894.7,1565.6 896.3,1587.4 897.9,1546.3 899.5,1586.1 901.1,1606.6 902.6,1546.3 904.2,1587.4 905.8,1527.1 907.4,1566.9 908.9,1606.6 910.5,1566.9 912.1,1546.3 913.7,1566.2 915.2,1566.2 916.8,1547.6 918.4,1507.9 920.0,1587.4 921.5,1566.9 923.1,1566.9 924.7,1547.6 926.3,1547.6 927.8,1488.7 929.4,1606.6 931.0,1586.1 932.6,1527.1 934.2,1566.9 935.7,1587.4 937.3,1546.3 938.9,1587.4 940.5,1565.6 942.0,1587.4 943.6,1546.3 945.2,1566.9 946.8,1606.6 948.3,1546.3 949.9,1587.4 951.5,1527.1 953.1,1587.4 954.6,1527.1 956.2,1587.4 957.8,1546.3 959.4,1587.4 961.0,1527.1 962.5,1587.4 964.1,1527.1 965.7,1566.9 967.3,1606.6 968.8,1527.1 970.4,1587.4 972.0,1565.6 973.6,1606.6 975.1,1565.6 976.7,1606.6 978.3,1565.6 979.9,1606.6 981.4,1507.9 983.0,1566.9 984.6,1606.6 986.2,1565.6 987.7,1587.4 989.3,1546.3 990.9,1606.6 992.5,1546.3 994.1,1606.6 995.6,1507.9 997.2,1566.9 998.8,1606.6 1000.4,1565.6 1001.9,1587.4 1003.5,1567.6 1005.1,1567.6 1006.7,1586.1 1008.2,1606.6 1009.8,1547.6 1011.4,1507.9 1013.0,1606.6 1014.5,1586.1 1016.1,1565.6 1017.7,1587.4 1019.3,1565.6 1020.8,1585.4 1022.4,1585.4 1024.0,1565.6 1025.6,1587.4 1027.2,1565.6 1028.7,1606.6 1030.3,1566.9 1031.9,1546.3 1033.5,1568.2 1035.0,1529.1 1036.6,1529.1 1038.2,1604.6 1039.8,1604.6 1041.3,1528.4 1042.9,1528.4 1044.5,1507.9 1046.1,1587.4 1047.6,1507.9 1049.2,1587.4 1050.8,1507.9 1052.4,1606.6 1054.0,1529.1 1055.5,1529.1 1057.1,1606.6 1058.7,1565.6 1060.3,1606.6 1061.8,1565.6 1063.4,1606.6 1065.0,1565.6 1066.6,1606.6 1068.1,1586.1 1069.7,1586.1 1071.3,1527.1 1072.9,1566.9 1074.4,1606.6 1076.0,1586.1 1077.6,1565.6 1079.2,1606.6 1080.7,1566.9 1082.3,1566.9 1083.9,1527.1 1085.5,1604.6 1087.1,1604.6 1088.6,1546.3 1090.2,1606.6 1091.8,1546.3 1093.4,1606.6 1094.9,1546.3 1096.5,1587.4 1098.1,1565.6 1099.7,1606.6 1101.2,1527.1 1102.8,1606.6 1104.4,1527.1 1106.0,1606.6 1107.5,1527.1 1109.1,1604.6 1110.7,1604.6 1112.3,1529.1 1113.9,1529.1 1115.4,1587.4 1117.0,1565.6 1118.6,1587.4 1120.2,1565.6 1121.7,1587.4 1123.3,1565.6 1124.9,1606.6 1126.5,1565.6 1128.0,1606.6 1129.6,1527.1 1131.2,1587.4 1132.8,1566.9 1134.3,1507.9 1135.9,1587.4 1137.5,1566.9 1139.1,1547.6 1140.6,1527.1 1142.2,1587.4 1143.8,1527.1 1145.4,1606.6 1147.0,1527.1 1148.5,1566.9 1150.1,1606.6 1151.7,1546.3 1153.3,1606.6 1154.8,1547.6 1156.4,1529.1 1158.0,1529.1 1159.6,1568.2 1161.1,1527.1 1162.7,1587.4 1164.3,1529.1 1165.9,1529.1 1167.4,1548.9 1169.0,1527.1 1170.6,1547.6 1172.2,1606.6 1173.8,1546.3 1175.3,1606.6 1176.9,1546.3 1178.5,1587.4 1180.1,1565.6 1181.6,1587.4 1183.2,1546.3 1184.8,1587.4 1186.4,1546.3 1187.9,1606.6 1189.5,1565.6 1191.1,1606.6 1192.7,1546.3 1194.2,1587.4 1195.8,1527.1 1197.4,1606.6 1199.0,1527.1 1200.5,1586.1 1202.1,1606.6 1203.7,1565.6 1205.3,1587.4 1206.9,1547.6 1208.4,1547.6 1210.0,1547.6 1211.6,1507.9 1213.2,1568.2 1214.7,1490.7 1216.3,1490.7 1217.9,1568.2 1219.5,1507.9 1221.0,1587.4 1222.6,1566.9 1224.2,1488.7 1225.8,1587.4 1227.3,1507.9 1228.9,1568.2 1230.5,1546.3 1232.1,1587.4 1233.7,1529.1 1235.2,1529.1 1236.8,1587.4 1238.4,1527.1 1240.0,1587.4 1241.5,1507.9 1243.1,1587.4 1244.7,1507.9 1246.3,1587.4 1247.8,1509.2 1249.4,1488.7 1251.0,1587.4 1252.6,1527.1 1254.1,1606.6 1255.7,1527.1 1257.3,1587.4 1258.9,1565.6 1260.4,1585.4 1262.0,1585.4 1263.6,1565.6 1265.2,1606.6 1266.8,1565.6 1268.3,1606.6 1269.9,1586.1 1271.5,1565.6 1273.1,1606.6 1274.6,1566.9 1276.2,1546.3 1277.8,1586.1 1279.4,1606.6 1280.9,1565.6 1282.5,1587.4 1284.1,1566.9 1285.7,1527.1 1287.2,1547.6 1288.8,1587.4 1290.4,1546.3 1292.0,1606.6 1293.5,1565.6 1295.1,1587.4 1296.7,1566.9 1298.3,1566.9 1299.9,1546.3 1301.4,1566.9 1303.0,1606.6 1304.6,1584.8 1306.2,1606.6 1307.7,1566.9 1309.3,1527.1 1310.9,1587.4 1312.5,1546.3 1314.0,1587.4 1315.6,1546.3 1317.2,1586.1 1318.8,1586.1 1320.3,1606.6 1321.9,1584.8 1323.5,1606.6 1325.1,1548.3 1326.7,1548.3 1328.2,1587.4 1329.8,1546.3 1331.4,1587.4 1333.0,1565.6 1334.5,1587.4 1336.1,1565.6 1337.7,1587.4 1339.3,1527.1 1340.8,1587.4 1342.4,1527.1 1344.0,1587.4 1345.6,1528.4 1347.1,1507.9 1348.7,1606.6 1350.3,1586.1 1351.9,1565.6 1353.4,1606.6 1355.0,1546.3 1356.6,1604.6 1358.2,1604.6 1359.8,1565.6 1361.3,1606.6 1362.9,1584.8 1364.5,1606.6 1366.1,1529.1 1367.6,1529.1 1369.2,1606.6 1370.8,1546.3 1372.4,1606.6 1373.9,1584.8 1375.5,1606.6 1377.1,1527.1 1378.7,1606.6 1380.2,1546.3 1381.8,1566.9 1383.4,1566.9 1385.0,1587.4 1386.6,1548.3 1388.1,1548.3 1389.7,1606.6 1391.3,1546.3 1392.9,1587.4 1394.4,1546.3 1396.0,1566.9 1397.6,1586.1 1399.2,1586.1 1400.7,1606.6 1402.3,1565.6 1403.9,1585.4 1405.5,1585.4 1407.0,1565.6 1408.6,1587.4 1410.2,1565.6 1411.8,1587.4 1413.3,1565.6 1414.9,1606.6 1416.5,1565.6 1418.1,1604.6 1419.7,1604.6 1421.2,1586.1 1422.8,1546.3 1424.4,1606.6 1426.0,1567.6 1427.5,1567.6 1429.1,1606.6 1430.7,1567.6 1432.3,1567.6 1433.8,1606.6 1435.4,1565.6 1437.0,1586.1 1438.6,1586.1 1440.1,1606.6 1441.7,1565.6 1443.3,1606.6 1444.9,1546.3 1446.5,1587.4 1448.0,1566.9 1449.6,1527.1 1451.2,1566.2 1452.8,1566.2 1454.3,1546.3 1455.9,1587.4 1457.5,1565.6 1459.1,1587.4 1460.6,1565.6 1462.2,1587.4 1463.8,1507.9 1465.4,1585.4 1466.9,1585.4 1468.5,1585.4 1470.1,1585.4 1471.7,1585.4 1473.2,1507.9 1474.8,1587.4 1476.4,1548.3 1478.0,1548.3 1479.6,1587.4 1481.1,1565.6 1482.7,1606.6 1484.3,1546.3 1485.9,1568.2 1487.4,1507.9 1489.0,1568.2 1490.6,1546.3 1492.2,1566.2 1493.7,1566.2 1495.3,1527.1 1496.9,1606.6 1498.5,1565.6 1500.0,1606.6 1501.6,1566.9 1503.2,1546.3 1504.8,1587.4 1506.3,1565.6 1507.9,1587.4 1509.5,1546.3 1511.1,1604.6 1512.7,1604.6 1514.2,1546.3 1515.8,1606.6 1517.4,1546.3 1519.0,1606.6 1520.5,1565.6 1522.1,1606.6 1523.7,1584.8 1525.3,1604.6 1526.8,1604.6 1528.4,1584.8 1530.0,1606.6 1531.6,1527.1 1533.1,1586.1 1534.7,1606.6 1536.3,1584.8 1537.9,1606.6 1539.5,1565.6 1541.0,1587.4 1542.6,1565.6 1544.2,1606.6 1545.8,1566.9 1547.3,1527.1 1548.9,1606.6 1550.5,1586.8 1552.1,1586.8 1553.6,1586.8 1555.2,1586.8 1556.8,1606.6 1558.4,1507.9 1559.9,1566.9 1561.5,1587.4 1563.1,1566.9 1564.7,1527.1 1566.2,1586.1 1567.8,1606.6 1569.4,1584.8 1571.0,1606.6 1572.6,1586.1 1574.1,1586.1 1575.7,1507.9 1577.3,1568.2 1578.9,1546.3 1580.4,1606.6 1582.0,1565.6 1583.6,1606.6 1585.2,1548.3 1586.7,1548.3 1588.3,1566.9 1589.9,1566.9 1591.5,1587.4 1593.0,1547.6 1594.6,1527.1 1596.2,1547.6 1597.8,1547.6 1599.4,1568.2 1600.9,1546.3 1602.5,1568.2 1604.1,1546.3 1605.7,1604.6 1607.2,1604.6 1608.8,1565.6 1610.4,1606.6 1612.0,1566.9 1613.5,1566.9 1615.1,1546.3 1616.7,1585.4 1618.3,1585.4 1619.8,1546.3 1621.4,1587.4 1623.0,1546.3 1624.6,1606.6 1626.1,1527.1 1627.7,1606.6 1629.3,1507.9 1630.9,1587.4 1632.5,1546.3 1634.0,1587.4 1635.6,1546.3 1637.2,1606.6 1638.8,1546.3 1640.3,1604.6 1641.9,1604.6 1643.5,1546.3 1645.1,1568.2 1646.6,1546.3 1648.2,1587.4 1649.8,1565.6 1651.4,1585.4 1652.9,1585.4 1654.5,1565.6 1656.1,1587.4 1657.7,1507.9 1659.3,1587.4 1660.8,1527.1 1662.4,1585.4 1664.0,1585.4 1665.6,1567.6 1667.1,1567.6 1668.7,1587.4 1670.3,1548.3 1671.9,1548.3 1673.4,1587.4 1675.0,1565.6 1676.6,1606.6 1678.2,1584.8 1679.7,1606.6 1681.3,1584.8 1682.9,1606.6 1684.5,1586.8 1686.0,1586.8 1687.6,1606.6 1689.2,1586.1 1690.8,1565.6 1692.4,1604.6 1693.9,1604.6 1695.5,1584.8 1697.1,1606.6 1698.7,1584.8 1700.2,1606.6 1701.8,1584.8 1703.4,1606.6 1705.0,1584.8 1706.5,1606.6"/>
</g>
<g shape-rendering="crispEdges">
<rect x="126" y="64" width="3" height="1582" fill="#000" fill-opacity="0.2"/>
<rect x="132" y="64" width="3" height="1582" fill="#000" fill-opacity="0.5"/>
<rect x="129" y="64" width="3" height="1582" fill="#000"/>
<rect x="1702" y="64" width="3" height="1582" fill="#000" fill-opacity="0.24"/>
<rect x="1708" y="64" width="3" height="1582" fill="#000" fill-opacity="0.5"/>
<rect x="1705" y="64" width="3" height="1582" fill="#000"/>
<rect x="129" y="64" width="1579" height="3.3" fill="#111"/>
<rect x="129" y="67.3" width="1579" height="2.6" fill="#2a2a2a"/>
<rect x="129" y="1640.2" width="1579" height="2.7" fill="#444"/>
<rect x="129" y="1642.9" width="1579" height="3.1" fill="#000"/>
<rect x="129" y="1647" width="1579" height="1.5" fill="#f0f0f0"/>
<rect x="188.6" y="1628.4" width="2.9" height="11.8" fill="#000" fill-opacity="0.22"/>
<rect x="194.5" y="1628.4" width="2.9" height="11.8" fill="#000" fill-opacity="0.5"/>
<rect x="191.5" y="1628.4" width="3" height="14.6" fill="#000"/>
<rect x="191.5" y="1625.6000000000001" width="3" height="2.8" fill="#000" fill-opacity="0.35"/>
<rect x="251.6" y="1628.4" width="2.9" height="11.8" fill="#000" fill-opacity="0.22"/>
<rect x="257.5" y="1628.4" width="2.9" height="11.8" fill="#000" fill-opacity="0.5"/>
<rect x="254.5" y="1628.4" width="3" height="14.6" fill="#000"/>
<rect x="254.5" y="1625.6000000000001" width="3" height="2.8" fill="#000" fill-opacity="0.35"/>
<rect x="314.7" y="1628.4" width="2.9" height="11.8" fill="#000" fill-opacity="0.22"/>
<rect x="320.6" y="1628.4" width="2.9" height="11.8" fill="#000" fill-opacity="0.5"/>
<rect x="317.6" y="1628.4" width="3" height="14.6" fill="#000"/>
<rect x="317.6" y="1625.6000000000001" width="3" height="2.8" fill="#000" fill-opacity="0.35"/>
<rect x="377.7" y="1628.4" width="2.9" height="11.8" fill="#000" fill-opacity="0.22"/>
<rect x="383.6" y="1628.4" width="2.9" height="11.8" fill="#000" fill-opacity="0.5"/>
<rect x="380.6" y="1628.4" width="3" height="14.6" fill="#000"/>
<rect x="380.6" y="1625.6000000000001" width="3" height="2.8" fill="#000" fill-opacity="0.35"/>
<rect x="440.8" y="1616.2" width="2.9" height="24.0" fill="#000" fill-opacity="0.22"/>
<rect x="446.7" y="1616.2" width="2.9" height="24.0" fill="#000" fill-opacity="0.5"/>
<rect x="443.7" y="1616.2" width="3" height="26.8" fill="#000"/>
<rect x="443.7" y="1613.4" width="3" height="2.8" fill="#000" fill-opacity="0.35"/>
<rect x="503.9" y="1628.4" width="2.9" height="11.8" fill="#000" fill-opacity="0.22"/>
<rect x="509.8" y="1628.4" width="2.9" height="11.8" fill="#000" fill-opacity="0.5"/>
<rect x="506.8" y="1628.4" width="3" height="14.6" fill="#000"/>
<rect x="506.8" y="1625.6000000000001" width="3" height="2.8" fill="#000" fill-opacity="0.35"/>
<rect x="566.9" y="1628.4" width="2.9" height="11.8" fill="#000" fill-opacity="0.22"/>
<rect x="572.8" y="1628.4" width="2.9" height="11.8" fill="#000" fill-opacity="0.5"/>
<rect x="569.8" y="1628.4" width="3" height="14.6" fill="#000"/>
<rect x="569.8" y="1625.6000000000001" width="3" height="2.8" fill="#000" fill-opacity="0.35"/>
<rect x="630.0" y="1628.4" width="2.9" height="11.8" fill="#000" fill-opacity="0.22"/>
<rect x="635.9" y="1628.4" width="2.9" height="11.8" fill="#000" fill-opacity="0.5"/>
<rect x="632.9" y="1628.4" width="3" height="14.6" fill="#000"/>
<rect x="632.9" y="1625.6000000000001" width="3" height="2.8" fill="#000" fill-opacity="0.35"/>
<rect x="693.0" y="1628.4" width="2.9" height="11.8" fill="#000" fill-opacity="0.22"/>
<rect x="698.9" y="1628.4" width="2.9" height="11.8" fill="#000" fill-opacity="0.5"/>
<rect x="695.9" y="1628.4" width="3" height="14.6" fill="#000"/>
<rect x="695.9" y="1625.6000000000001" width="3" height="2.8" fill="#000" fill-opacity="0.35"/>
<rect x="756.1" y="1616.2" width="2.9" height="24.0" fill="#000" fill-opacity="0.22"/>
<rect x="762.0" y="1616.2" width="2.9" height="24.0" fill="#000" fill-opacity="0.5"/>
<rect x="759.0" y="1616.2" width="3" height="26.8" fill="#000"/>
<rect x="759.0" y="1613.4" width="3" height="2.8" fill="#000" fill-opacity="0.35"/>
<rect x="819.1" y="1628.4" width="2.9" height="11.8" fill="#000" fill-opacity="0.22"/>
<rect x="825.0" y="1628.4" width="2.9" height="11.8" fill="#000" fill-opacity="0.5"/>
<rect x="822.0" y="1628.4" width="3" height="14.6" fill="#000"/>
<rect x="822.0" y="1625.6000000000001" width="3" height="2.8" fill="#000" fill-opacity="0.35"/>
<rect x="882.2" y="1628.4" width="2.9" height="11.8" fill="#000" fill-opacity="0.22"/>
<rect x="888.1" y="1628.4" width="2.9" height="11.8" fill="#000" fill-opacity="0.5"/>
<rect x="885.1" y="1628.4" width="3" height="14.6" fill="#000"/>
<rect x="885.1" y="1625.6000000000001" width="3" height="2.8" fill="#000" fill-opacity="0.35"/>
<rect x="945.2" y="1628.4" width="2.9" height="11.8" fill="#000" fill-opacity="0.22"/>
<rect x="951.1" y="1628.4" width="2.9" height="11.8" fill="#000" fill-opacity="0.5"/>
<rect x="948.1" y="1628.4" width="3" height="14.6" fill="#000"/>
<rect x="948.1" y="1625.6000000000001" width="3" height="2.8" fill="#000" fill-opacity="0.35"/>
<rect x="1008.3" y="1628.4" width="2.9" height="11.8" fill="#000" fill-opacity="0.22"/>
<rect x="1014.2" y="1628.4" width="2.9" height="11.8" fill="#000" fill-opacity="0.5"/>
<rect x="1011.2" y="1628.4" width="3" height="14.6" fill="#000"/>
<rect x="1011.2" y="1625.6000000000001" width="3" height="2.8" fill="#000" fill-opacity="0.35"/>
<rect x="1071.3" y="1616.2" width="2.9" height="24.0" fill="#000" fill-opacity="0.22"/>
<rect x="1077.2" y="1616.2" width="2.9" height="24.0" fill="#000" fill-opacity="0.5"/>
<rect x="1074.2" y="1616.2" width="3" height="26.8" fill="#000"/>
<rect x="1074.2" y="1613.4" width="3" height="2.8" fill="#000" fill-opacity="0.35"/>
<rect x="1134.4" y="1628.4" width="2.9" height="11.8" fill="#000" fill-opacity="0.22"/>
<rect x="1140.3" y="1628.4" width="2.9" height="11.8" fill="#000" fill-opacity="0.5"/>
<rect x="1137.3" y="1628.4" width="3" height="14.6" fill="#000"/>
<rect x="1137.3" y="1625.6000000000001" width="3" height="2.8" fill="#000" fill-opacity="0.35"/>
<rect x="1197.4" y="1628.4" width="2.9" height="11.8" fill="#000" fill-opacity="0.22"/>
<rect x="1203.3" y="1628.4" width="2.9" height="11.8" fill="#000" fill-opacity="0.5"/>
<rect x="1200.3" y="1628.4" width="3" height="14.6" fill="#000"/>
<rect x="1200.3" y="1625.6000000000001" width="3" height="2.8" fill="#000" fill-opacity="0.35"/>
<rect x="1260.5" y="1628.4" width="2.9" height="11.8" fill="#000" fill-opacity="0.22"/>
<rect x="1266.4" y="1628.4" width="2.9" height="11.8" fill="#000" fill-opacity="0.5"/>
<rect x="1263.4" y="1628.4" width="3" height="14.6" fill="#000"/>
<rect x="1263.4" y="1625.6000000000001" width="3" height="2.8" fill="#000" fill-opacity="0.35"/>
<rect x="1323.5" y="1628.4" width="2.9" height="11.8" fill="#000" fill-opacity="0.22"/>
<rect x="1329.4" y="1628.4" width="2.9" height="11.8" fill="#000" fill-opacity="0.5"/>
<rect x="1326.4" y="1628.4" width="3" height="14.6" fill="#000"/>
<rect x="1326.4" y="1625.6000000000001" width="3" height="2.8" fill="#000" fill-opacity="0.35"/>
<rect x="1386.6" y="1616.2" width="2.9" height="24.0" fill="#000" fill-opacity="0.22"/>
<rect x="1392.5" y="1616.2" width="2.9" height="24.0" fill="#000" fill-opacity="0.5"/>
<rect x="1389.5" y="1616.2" width="3" height="26.8" fill="#000"/>
<rect x="1389.5" y="1613.4" width="3" height="2.8" fill="#000" fill-opacity="0.35"/>
<rect x="1449.6" y="1628.4" width="2.9" height="11.8" fill="#000" fill-opacity="0.22"/>
<rect x="1455.5" y="1628.4" width="2.9" height="11.8" fill="#000" fill-opacity="0.5"/>
<rect x="1452.5" y="1628.4" width="3" height="14.6" fill="#000"/>
<rect x="1452.5" y="1625.6000000000001" width="3" height="2.8" fill="#000" fill-opacity="0.35"/>
<rect x="1512.7" y="1628.4" width="2.9" height="11.8" fill="#000" fill-opacity="0.22"/>
<rect x="1518.6" y="1628.4" width="2.9" height="11.8" fill="#000" fill-opacity="0.5"/>
<rect x="1515.6" y="1628.4" width="3" height="14.6" fill="#000"/>
<rect x="1515.6" y="1625.6000000000001" width="3" height="2.8" fill="#000" fill-opacity="0.35"/>
<rect x="1575.7" y="1628.4" width="2.9" height="11.8" fill="#000" fill-opacity="0.22"/>
<rect x="1581.6" y="1628.4" width="2.9" height="11.8" fill="#000" fill-opacity="0.5"/>
<rect x="1578.6" y="1628.4" width="3" height="14.6" fill="#000"/>
<rect x="1578.6" y="1625.6000000000001" width="3" height="2.8" fill="#000" fill-opacity="0.35"/>
<rect x="1638.8" y="1628.4" width="2.9" height="11.8" fill="#000" fill-opacity="0.22"/>
<rect x="1644.7" y="1628.4" width="2.9" height="11.8" fill="#000" fill-opacity="0.5"/>
<rect x="1641.7" y="1628.4" width="3" height="14.6" fill="#000"/>
<rect x="1641.7" y="1625.6000000000001" width="3" height="2.8" fill="#000" fill-opacity="0.35"/>
</g>
<text class="tick" text-anchor="middle" transform="translate(130.2 1736.5) rotate(-30)" y="31.5">30</text>
<text class="tick" text-anchor="middle" transform="translate(445.5 1736.5) rotate(-30)" y="31.5">40</text>
<text class="tick" text-anchor="middle" transform="translate(760.8 1736.5) rotate(-30)" y="31.5">50</text>
<text class="tick" text-anchor="middle" transform="translate(1076.0 1736.5) rotate(-30)" y="31.5">60</text>
<text class="tick" text-anchor="middle" transform="translate(1391.3 1736.5) rotate(-30)" y="31.5">70</text>
<text class="tick" text-anchor="middle" transform="translate(1706.5 1736.5) rotate(-30)" y="31.5">80</text>
<text class="axis" text-anchor="middle" x="919" y="1891">2θ (°)</text>
<text class="axis" style="font-size:95.5px" text-anchor="middle" transform="translate(99 852.6) rotate(-90)">Intensity (arb.unit)</text>
<text class="lab" text-anchor="end" transform="translate(1675.5 611.5) scale(0.97 1)" style="fill:#036635">−150V</text>
<text class="lab" text-anchor="end" transform="translate(1675.5 998.5) scale(0.97 1)" style="fill:#0000ff">−60V</text>
<text class="lab" text-anchor="end" transform="translate(1675.5 1492) scale(0.97 1)" style="fill:#ff0066">0V</text>
<text class="ann" transform="translate(301 451) rotate(-90)">Cr<tspan font-size="44" dy="19.5">3</tspan><tspan dy="-19.5">C</tspan><tspan font-size="44" dy="19.5">2</tspan></text>
<text class="ann" transform="translate(456 356) rotate(-90)">a-CrC</text>
<text class="ann" transform="translate(607 346.5) rotate(-90)">Cr (110)</text>
<text class="ann" transform="translate(685 485) rotate(-90)">Cr<tspan font-size="44" dy="19.5">3</tspan><tspan dy="-19.5">C</tspan><tspan font-size="44" dy="19.5">2</tspan></text>
<text class="ann" transform="translate(812 474) rotate(-90)">a-CrC</text>
<text class="ann" transform="translate(1256 459) rotate(-90)">Cr (200)</text>
<polygon points="255.8,480.7 297.8,480.7 276.8,517.3" fill="none" stroke="#1c1c1c" stroke-width="2.8" stroke-linejoin="miter"/>
<polygon points="432.7,382.7 455.2,405.2 432.7,427.7 410.2,405.2" fill="#000"/>
<polygon points="583.4,374 604.4,395 583.4,416 562.4,395" fill="none" stroke="#111" stroke-width="3"/>
<polygon points="641,515.9 683,515.9 662,551" fill="none" stroke="#1c1c1c" stroke-width="2.8" stroke-linejoin="miter"/>
<polygon points="788,500.9 810.5,523.4 788,545.9 765.5,523.4" fill="#000"/>
<polygon points="1232,489 1253,510 1232,531 1211,510" fill="none" stroke="#111" stroke-width="3"/>
<rect x="0" y="1910" width="1795" height="38" fill="#fff"/>
</svg></body></html>
